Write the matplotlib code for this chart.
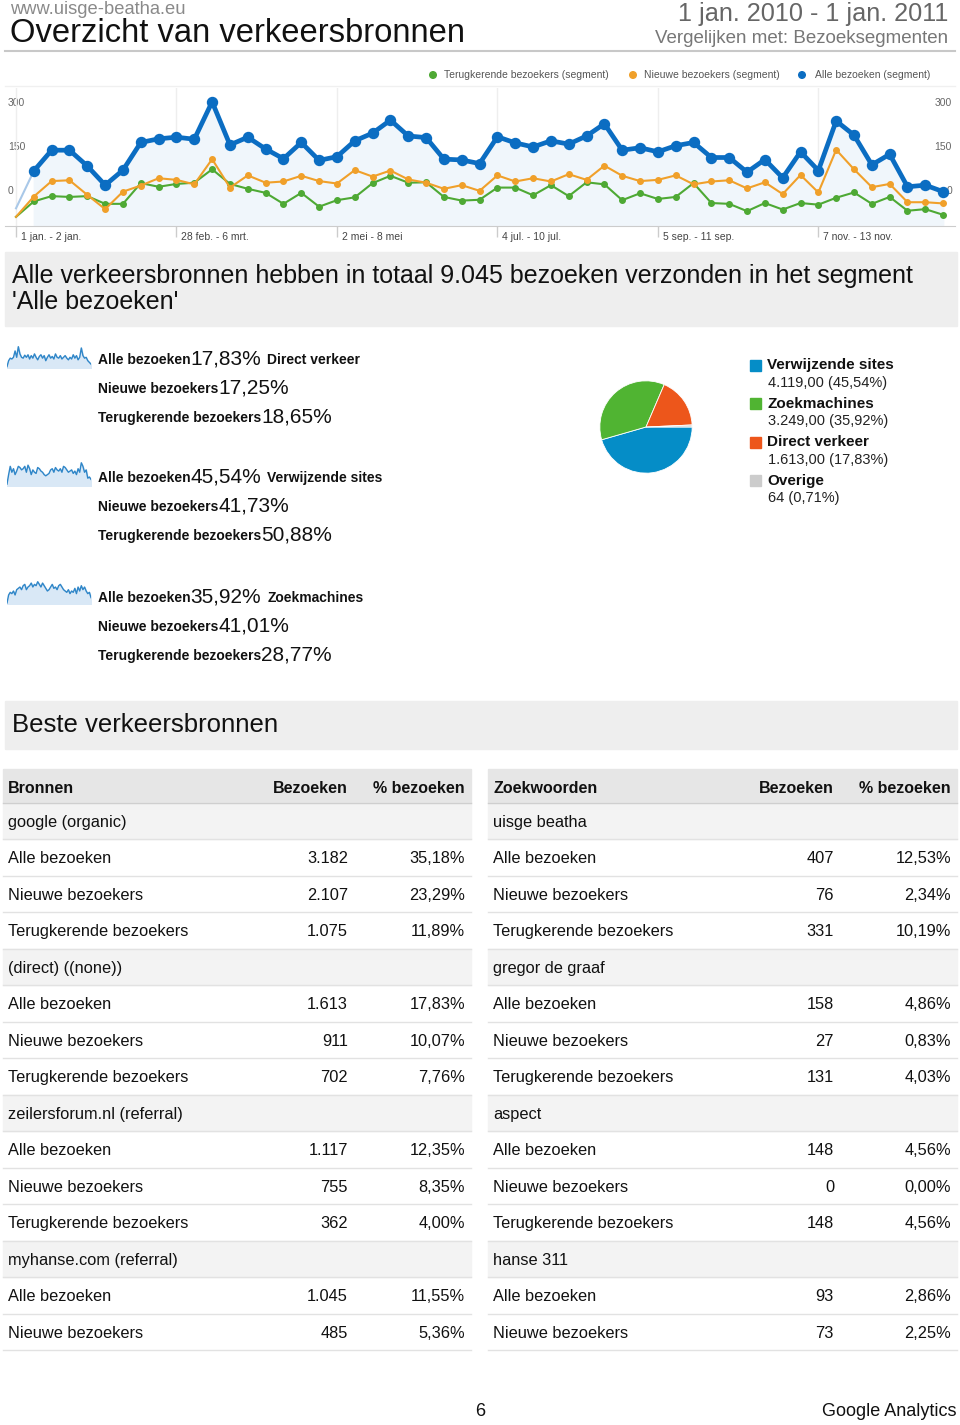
import matplotlib
matplotlib.use("Agg")
import matplotlib.pyplot as plt
import matplotlib.transforms as mtransforms
from matplotlib.patches import Rectangle, Circle

# ---- data ----
weeks = list(range(53))
all_visits = [41, 133, 184, 184, 145, 98, 135, 203, 212, 216,
              211, 303, 197, 216, 187, 163, 203, 159, 168, 207,
              226, 258, 219, 215, 162, 160, 151, 217, 202, 192,
              207, 199, 219, 249, 184, 190, 180, 195, 203, 166,
              166, 130, 161, 116, 180, 134, 256, 221, 148, 174,
              94, 98, 82]
new_visits = [20, 70, 108, 110, 74, 39, 82, 97, 115, 111,
              100, 162, 92, 122, 104, 107, 121, 108, 102, 135,
              119, 134, 112, 104, 89, 98, 84, 122, 107, 115,
              107, 125, 111, 146, 121, 108, 111, 122, 100, 107,
              110, 90, 105, 76, 123, 80, 185, 137, 93, 101,
              56, 56, 53]
returning_visits = [20, 58, 71, 69, 71, 52, 52, 103, 94, 101,
                    104, 137, 101, 89, 79, 52, 79, 45, 61, 68,
                    103, 121, 104, 105, 69, 60, 62, 92, 92, 73,
                    98, 71, 105, 100, 61, 78, 64, 69, 103, 54,
                    52, 34, 54, 38, 54, 50, 67, 80, 52, 69,
                    35, 39, 25]
tick_weeks = [0, 9, 18, 27, 36, 45]
tick_labels = ["1 jan. - 2 jan.", "28 feb. - 6 mrt.", "2 mei - 8 mei",
               "4 jul. - 10 jul.", "5 sep. - 11 sep.", "7 nov. - 13 nov."]
series_names = ["Terugkerende bezoekers (segment)", "Nieuwe bezoekers (segment)",
                "Alle bezoeken (segment)"]

# sparklines (weekly visits per source, read by eye)
spark_direct = [8, 22, 28, 26, 30, 45, 30, 55, 38, 30, 28, 35, 30, 36, 26, 34, 28, 38,
                30, 24, 32, 36, 28, 34, 22, 30, 36, 28, 32, 26, 38, 30, 28, 34, 26, 30,
                34, 28, 24, 30, 26, 36, 28, 34, 24, 30, 52, 34, 28, 30, 22, 18, 14]
spark_referral = [20, 60, 95, 70, 85, 60, 75, 95, 90, 80, 85, 95, 70, 100, 85, 60, 80, 70,
                  65, 90, 85, 75, 70, 60, 55, 60, 65, 80, 85, 70, 90, 80, 75, 85, 70, 95,
                  90, 80, 70, 75, 80, 65, 75, 60, 85, 70, 110, 95, 70, 80, 45, 50, 40]
spark_search = [10, 40, 50, 45, 55, 40, 60, 65, 70, 60, 75, 80, 60, 70, 75, 85, 70, 80,
                75, 90, 80, 70, 85, 75, 65, 55, 60, 70, 80, 65, 70, 60, 75, 80, 70, 60,
                55, 50, 60, 45, 55, 50, 65, 45, 70, 55, 75, 60, 70, 55, 45, 50, 30]
spark_sources = ["Direct verkeer", "Verwijzende sites", "Zoekmachines"]
spark_series = [spark_direct, spark_referral, spark_search]
spark_pct = [[17.83, 17.25, 18.65], [45.54, 41.73, 50.88], [35.92, 41.01, 28.77]]
segments = ["Alle bezoeken", "Nieuwe bezoekers", "Terugkerende bezoekers"]

pie_labels = ["Verwijzende sites", "Zoekmachines", "Direct verkeer", "Overige"]
pie_values = [4119, 3249, 1613, 64]
pie_colors = ["#058dc7", "#50b432", "#ed561b", "#cccccc"]

left_groups = ["google (organic)", "(direct) ((none))", "zeilersforum.nl (referral)",
               "myhanse.com (referral)"]
left_visits = [[3182, 2107, 1075], [1613, 911, 702], [1117, 755, 362], [1045, 485]]
left_pct = [[35.18, 23.29, 11.89], [17.83, 10.07, 7.76], [12.35, 8.35, 4.00], [11.55, 5.36]]
right_groups = ["uisge beatha", "gregor de graaf", "aspect", "hanse 311"]
right_visits = [[407, 76, 331], [158, 27, 131], [148, 0, 148], [93, 73]]
right_pct = [[12.53, 2.34, 10.19], [4.86, 0.83, 4.03], [4.56, 0.00, 4.56], [2.86, 2.25]]


def fmt_int(n):
    return f"{n:,}".replace(",", ".")


def fmt_pct(p):
    return f"{p:.2f}".replace(".", ",") + "%"


plt.rcParams['font.family'] = ['Liberation Sans', 'DejaVu Sans']
W, H = 960, 1425
fig = plt.figure(figsize=(W / 100, H / 100), dpi=100)
bg = fig.add_axes([0, 0, 1, 1])
bg.set_xlim(0, W)
bg.set_ylim(H, 0)
bg.axis("off")
renderer = fig.canvas.get_renderer()


def px_axes(x0, y0, x1, y1):
    a = fig.add_axes([x0 / W, 1 - y1 / H, (x1 - x0) / W, (y1 - y0) / H])
    a.patch.set_alpha(0)
    return a


# ---- header ----
bg.text(10, 9, "www.uisge-beatha.eu", fontsize=13.2, color="#8a8a8a", va="center")
bg.text(10, 33, "Overzicht van verkeersbronnen", fontsize=23.6, color="#111", va="center")
bg.text(948, 14, "1 jan. 2010 - 1 jan. 2011", fontsize=18.2, color="#666", va="center", ha="right")
bg.text(948, 38, "Vergelijken met: Bezoeksegmenten", fontsize=13.5, color="#777",
        va="center", ha="right")
bg.plot([5, 955], [51, 51], color="#c8c8c8", lw=1.5)

# ---- legend of line chart ----
line_colors = ["#4ea934", "#f0a02a", "#0b6dc2"]
for (xd, xt), name, c in zip([(433, 444), (633, 644), (802, 815)], series_names, line_colors):
    bg.add_patch(Circle((xd, 75), 3.3, color=c))
    bg.text(xt, 75, name, fontsize=7.5, color="#555", va="center")
bg.plot([5, 955], [86, 86], color="#f0f0f0", lw=1)

# y labels (as in the original, offset above the grid)
for y, lab in [(103, "300"), (147, "150"), (191, "0")]:
    bg.text(8, y, lab, fontsize=7.5, color="#666", va="center")
    bg.text(952, y, lab, fontsize=7.5, color="#666", va="center", ha="right")

# ---- line chart ----
ax = px_axes(5, 88, 955, 226)
ax.set_xlim((5 - 16) / 17.83, (955 - 16) / 17.83)
ax.set_ylim(-2.5, 337)
for s in ["top", "left", "right"]:
    ax.spines[s].set_visible(False)
ax.spines["bottom"].set_color("#cccccc")
ax.set_yticks([])
ax.set_xticks(tick_weeks)
ax.set_xticklabels([])
ax.tick_params(axis="x", length=8, color="#cccccc", width=1)
ax.grid(axis="x", color="#eeeeee", lw=1)
ax.set_axisbelow(True)
lab_tr = mtransforms.offset_copy(ax.get_xaxis_transform(), fig=fig, x=5, y=-11, units="dots")
for w, lab in zip(tick_weeks, tick_labels):
    ax.text(w, 0, lab, transform=lab_tr, fontsize=7.5, color="#444", va="center", ha="left")

ax.fill_between(weeks[1:], all_visits[1:], 0, color="#f0f6fb", zorder=1)
ax.plot(weeks[:2], all_visits[:2], color="#a9c8e8", lw=1.5, zorder=4)
ax.plot(weeks, returning_visits, color=line_colors[0], lw=1.5, zorder=3)
ax.plot(weeks[1:], returning_visits[1:], "o", color=line_colors[0], ms=4, zorder=3)
ax.plot(weeks, new_visits, color=line_colors[1], lw=1.5, zorder=4)
ax.plot(weeks[1:], new_visits[1:], "o", color=line_colors[1], ms=4, zorder=4)
ax.plot(weeks[1:], all_visits[1:], "-o", color=line_colors[2], lw=3.4, ms=7.2, zorder=5)

# ---- banner 1 ----
total = sum(pie_values)
bg.add_patch(Rectangle((5, 252), 952, 74, color="#eeeeee", zorder=0))
bg.text(12, 283, f"Alle verkeersbronnen hebben in totaal {fmt_int(total)} bezoeken verzonden "
        "in het segment", fontsize=18, color="#111", va="baseline")
bg.text(12, 309, "'Alle bezoeken'", fontsize=18, color="#111", va="baseline")

# ---- sparklines + percentages ----
spark_boxes = [(346, 368), (462, 486), (581, 604)]
row_base = [[364, 393, 422], [482, 511, 540], [602, 631, 660]]
for k in range(3):
    y0, y1 = spark_boxes[k]
    sa = px_axes(7, y0, 91, y1)
    vals = spark_series[k]
    lo = min(vals) * 0.6
    sa.fill_between(weeks, vals, lo, color="#d9e8f6")
    sa.plot(weeks, vals, color="#2f86c8", lw=1)
    sa.set_xlim(0, 52)
    sa.set_ylim(lo, max(vals) * 1.03)
    sa.axis("off")
    for j in range(3):
        x = 98
        parts = [(segments[j], 10, "bold", 0), (fmt_pct(spark_pct[k][j]), 15, "normal", 0)]
        if j == 0:
            parts.append((spark_sources[k], 10, "bold", 6))
        for txt, size, weight, gap in parts:
            t = bg.text(x + gap, row_base[k][j], txt, fontsize=size, fontweight=weight,
                        color="#111", va="baseline")
            x = t.get_window_extent(renderer).x1

# ---- pie ----
pa = px_axes(598, 379, 694, 475)
pa.pie(pie_values, colors=pie_colors, startangle=0, counterclock=False,
       wedgeprops=dict(edgecolor="white", linewidth=0.6))
pa.set_xlim(-1.04, 1.04)
pa.set_ylim(-1.04, 1.04)
pa.set_aspect("equal")
for i, (name, v, c) in enumerate(zip(pie_labels, pie_values, pie_colors)):
    yt = 365 + i * 38.5
    bg.add_patch(Rectangle((750, yt - 5.5), 11, 11, color=c))
    bg.text(767, yt, name, fontsize=11, fontweight="bold", color="#111", va="center")
    if name == "Overige":
        val = f"{v} ({fmt_pct(100 * v / total)[:-1]}%)"
    else:
        val = f"{fmt_int(v)},00 ({fmt_pct(100 * v / total)})"
    bg.text(768, yt + 17.5, val, fontsize=10.5, color="#222", va="center")

# ---- banner 2 ----
bg.add_patch(Rectangle((5, 701), 952, 48, color="#eeeeee", zorder=0))
bg.text(12, 725, "Beste verkeersbronnen", fontsize=18.5, color="#111", va="center")


# ---- tables ----
def draw_table(x0, x1, title, groups, visits, pcts):
    col_v = x1 - 123
    col_p = x1 - 6
    bg.add_patch(Rectangle((x0, 769), x1 - x0, 34, color="#e6e6e6", zorder=0))
    bg.plot([x0, x1], [803, 803], color="#cfcfcf", lw=1)
    bg.text(x0 + 5, 788, title, fontsize=11.5, fontweight="bold", color="#111", va="center")
    bg.text(col_v, 788, "Bezoeken", fontsize=11.5, fontweight="bold", color="#111",
            va="center", ha="right")
    bg.text(col_p, 788, "% bezoeken", fontsize=11.5, fontweight="bold", color="#111",
            va="center", ha="right")
    rh = 36.47
    r = 0
    for g, vs, ps in zip(groups, visits, pcts):
        top = 803 + r * rh
        bg.add_patch(Rectangle((x0, top), x1 - x0, rh, color="#f3f3f3", zorder=0))
        bg.text(x0 + 5, top + 19.5, g, fontsize=11.8, color="#111", va="center")
        bg.plot([x0, x1], [top + rh, top + rh], color="#e2e2e2", lw=1)
        r += 1
        for seg, v, p in zip(segments, vs, ps):
            top = 803 + r * rh
            bg.text(x0 + 5, top + 19.5, seg, fontsize=11.8, color="#111", va="center")
            bg.text(col_v, top + 19.5, fmt_int(v), fontsize=11.8, color="#111",
                    va="center", ha="right")
            bg.text(col_p, top + 19.5, fmt_pct(p), fontsize=11.8, color="#111",
                    va="center", ha="right")
            bg.plot([x0, x1], [top + rh, top + rh], color="#e2e2e2", lw=1)
            r += 1


draw_table(3, 471, "Bronnen", left_groups, left_visits, left_pct)
draw_table(488, 957, "Zoekwoorden", right_groups, right_visits, right_pct)

# ---- footer ----
bg.text(480, 1412, "6", fontsize=13, color="#111", va="center", ha="center")
bg.text(956, 1412, "Google Analytics", fontsize=13, color="#111", va="center", ha="right")

fig.savefig("out.png", dpi=100)
